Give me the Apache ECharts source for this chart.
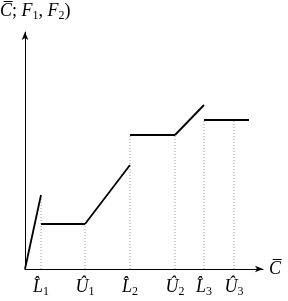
<!DOCTYPE html>
<html><head><meta charset="utf-8">
<script src="https://cdn.jsdelivr.net/npm/echarts@6/dist/echarts.min.js"></script>
<style>html,body{margin:0;padding:0;background:#fff}#c{width:288px;height:301px}</style>
</head><body><div id="c"></div>
<script>
// tick positions on the C-bar axis
const tickPositions = [16, 60, 105, 150, 179, 209];
const tickLetters = ['L\u0302', '\u00DB', 'L\u0302', '\u00DB', 'L\u0302', '\u00DB'];
const tickIndex = ['1', '1', '2', '2', '3', '3'];
// heights of the dotted drop lines
const dropHeights = [74, 45, 134, 134, 149, 149];
// line segments of the function
const segmentX = [[0, 16], [16, 60], [60, 105], [105, 150], [150, 179], [179, 224]];
const segmentY = [[0, 74], [45, 45], [45, 104], [134, 134], [134, 164], [149, 149]];

const FONT = 'Liberation Serif';
const chart = echarts.init(document.getElementById('c'));
const series = [];
tickPositions.forEach((x, i) => {
  series.push({
    type: 'line', data: [[x, 0], [x, dropHeights[i]]], symbol: 'none', silent: true, z: 1,
    lineStyle: { color: '#9a9a9a', width: 1, type: [1, 2] }
  });
});
segmentX.forEach((xs, i) => {
  series.push({
    type: 'line', data: [[xs[0], segmentY[i][0]], [xs[1], segmentY[i][1]]], symbol: 'none', z: 3,
    lineStyle: { color: '#000', width: 1.8 }
  });
});
const lbl = {};
tickPositions.forEach((x, i) => { lbl[x] = '{m|' + tickLetters[i] + '}{s|' + tickIndex[i] + '}'; });
chart.setOption({
  animation: false,
  grid: { left: 25, right: 25, top: 32, bottom: 32, containLabel: false },
  xAxis: {
    type: 'value', min: 0, max: 238,
    name: 'C\u0305', nameLocation: 'end', nameGap: 6,
    nameTextStyle: { fontFamily: FONT, fontStyle: 'italic', fontSize: 18, color: '#000', verticalAlign: 'middle', padding: [2, 0, 0, 0] },
    axisLine: { lineStyle: { color: '#000', width: 1 }, symbol: ['none', 'arrow'], symbolSize: [5, 8] },
    axisTick: { show: false }, splitLine: { show: false },
    axisLabel: {
      customValues: tickPositions, margin: 8,
      formatter: v => lbl[v] || '',
      rich: {
        m: { fontFamily: FONT, fontStyle: 'italic', fontSize: 18, color: '#000' },
        s: { fontFamily: FONT, fontSize: 12, color: '#000', padding: [9, 0, 0, 0] }
      }
    }
  },
  yAxis: {
    type: 'value', min: 0, max: 237,
    axisLine: { show: true, lineStyle: { color: '#000', width: 1 }, symbol: ['none', 'arrow'], symbolSize: [5, 8] },
    axisTick: { show: false }, splitLine: { show: false }, axisLabel: { show: false }
  },
  graphic: [{
    type: 'text', left: 0, top: 2,
    style: {
      text: '{m|C\u0305}{n|; }{m|F}{s|1}{n|, }{m|F}{s|2}{n|)}',
      rich: {
        m: { fontFamily: FONT, fontStyle: 'italic', fontSize: 18, fill: '#000' },
        n: { fontFamily: FONT, fontSize: 18, fill: '#000' },
        s: { fontFamily: FONT, fontSize: 12, fill: '#000', padding: [9, 0, 0, 0] }
      }
    }
  }],
  series: series
});
</script></body></html>
